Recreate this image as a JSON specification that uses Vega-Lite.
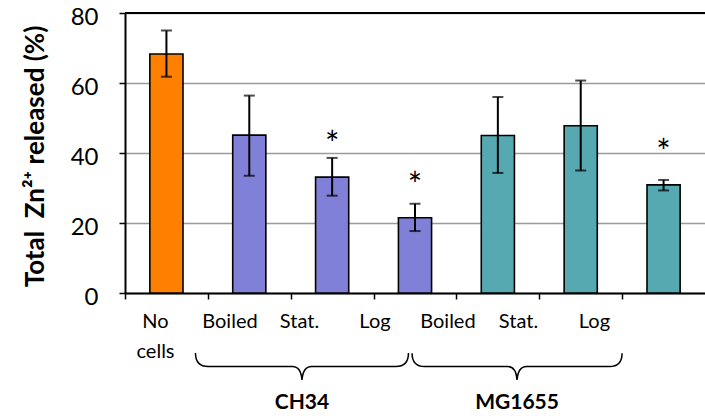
{
  "$schema": "https://vega.github.io/schema/vega-lite/v6.json",
  "autosize": {"type": "none"},
  "width": 580,
  "height": 280,
  "padding": {"left": 125, "top": 13, "right": 0, "bottom": 123},
  "background": "white",
  "config": {"font": "Lato", "view": {"stroke": null}},
  "datasets": {
    "bars": [
      {"id": "No cells", "group": "none", "value": 68.3, "lo": 61.8, "hi": 75.0, "sig": false},
      {"id": "CH34|Boiled", "group": "CH34", "value": 45.1, "lo": 33.5, "hi": 56.4, "sig": false},
      {"id": "CH34|Stat.", "group": "CH34", "value": 33.1, "lo": 27.8, "hi": 38.6, "sig": true},
      {"id": "CH34|Log", "group": "CH34", "value": 21.5, "lo": 17.7, "hi": 25.5, "sig": true},
      {"id": "MG1655|Boiled", "group": "MG1655", "value": 45.0, "lo": 34.3, "hi": 56.0, "sig": false},
      {"id": "MG1655|Stat.", "group": "MG1655", "value": 47.8, "lo": 35.0, "hi": 60.7, "sig": false},
      {"id": "MG1655|Log", "group": "MG1655", "value": 30.9, "lo": 29.3, "hi": 32.3, "sig": true}
    ]
  },
  "data": {"name": "bars"},
  "layer": [
    {
      "mark": {"type": "bar", "stroke": "black", "strokeWidth": 1.6},
      "encoding": {
        "x": {
          "field": "id", "type": "nominal", "sort": null,
          "scale": {"paddingInner": 0.6, "paddingOuter": 0.3},
          "axis": {
            "title": null,
            "labelAngle": 0,
            "labelExpr": "indexof(datum.value,'|')>=0 ? split(datum.value,'|')[1] : split(datum.value,' ')",
            "labelFont": "Lato",
            "labelFontSize": 20,
            "labelColor": "black",
            "labelLineHeight": 30,
            "labelPadding": 12,
            "tickOffset": -41.43,
            "labelOffset": {
              "condition": [
                {"test": "datum.value === 'No cells'", "value": 30},
                {"test": "datum.value === 'CH34|Boiled'", "value": 21.6},
                {"test": "datum.value === 'CH34|Stat.'", "value": 8.3},
                {"test": "datum.value === 'CH34|Log'", "value": 0.9},
                {"test": "datum.value === 'MG1655|Boiled'", "value": -9},
                {"test": "datum.value === 'MG1655|Stat.'", "value": -21.3}
              ],
              "value": -28.2
            },
            "labelOverlap": false,
            "tickSize": 6,
            "tickColor": "black",
            "tickWidth": 1.5,
            "domainColor": "black",
            "domainWidth": 2
          }
        },
        "y": {
          "field": "value", "type": "quantitative",
          "title": "Total\u00a0 Zn²⁺ released (%)",
          "scale": {"domain": [0, 80], "nice": false},
          "axis": {
            "titleFont": "Lato",
            "titleFontSize": 26,
            "titleFontWeight": "bold",
            "titleColor": "black",
            "titlePadding": 22,
            "titleY": 143,
            "values": [0, 20, 40, 60, 80],
            "labelFont": "Lato",
            "labelFontSize": 24,
            "labelColor": "black",
            "labelPadding": 21,
            "labelOffset": 4,
            "tickSize": 6,
            "tickColor": "black",
            "tickWidth": 1.5,
            "domainColor": "black",
            "domainWidth": 2,
            "grid": true,
            "gridColor": "#9a9a9a",
            "gridWidth": 1.6
          }
        },
        "color": {
          "field": "group", "type": "nominal", "legend": null,
          "scale": {"domain": ["none", "CH34", "MG1655"], "range": ["#FF8000", "#8080D8", "#56A9B1"]}
        }
      }
    },
    {
      "mark": {"type": "errorbar", "ticks": {"size": 11, "thickness": 2, "color": "black"}, "thickness": 2, "color": "black"},
      "encoding": {
        "x": {"field": "id", "type": "nominal", "sort": null},
        "y": {"field": "lo", "type": "quantitative", "title": "Total\u00a0 Zn²⁺ released (%)"},
        "y2": {"field": "hi"}
      }
    },
    {
      "transform": [{"filter": "datum.sig"}],
      "mark": {"type": "text", "text": "*", "font": "Lato", "fontSize": 34, "color": "black", "baseline": "alphabetic", "dy": -21},
      "encoding": {
        "x": {"field": "id", "type": "nominal", "sort": null},
        "y": {"field": "value", "type": "quantitative", "title": "Total\u00a0 Zn²⁺ released (%)"}
      }
    },
    {
      "data": {"values": [{}]},
      "mark": {"type": "rule", "color": "black", "strokeWidth": 2},
      "encoding": {"y": {"datum": 80, "type": "quantitative"}}
    },
    {
      "data": {"values": [{}]},
      "mark": {"type": "point", "shape": "M-1,-0.127 Q-1,0 -0.88,0 L-0.09,0 Q-0.01,0 0,0.127 Q0.01,0 0.09,0 L0.88,0 Q1,0 1,-0.127", "size": 45369, "filled": false, "stroke": "black", "strokeWidth": 1.5, "opacity": 1},
      "encoding": {
        "x": {"datum": "CH34|Boiled", "type": "nominal", "bandPosition": 2.09},
        "y": {"datum": -21, "type": "quantitative"}
      }
    },
    {
      "data": {"values": [{}]},
      "mark": {"type": "point", "shape": "M-1,-0.127 Q-1,0 -0.88,0 L-0.09,0 Q-0.01,0 0,0.127 Q0.01,0 0.09,0 L0.88,0 Q1,0 1,-0.127", "size": 44100, "filled": false, "stroke": "black", "strokeWidth": 1.5, "opacity": 1},
      "encoding": {
        "x": {"datum": "MG1655|Boiled", "type": "nominal", "bandPosition": 1.08},
        "y": {"datum": -21, "type": "quantitative"}
      }
    },
    {
      "data": {"values": [{}]},
      "mark": {"type": "text", "text": "CH34", "font": "Lato", "fontSize": 21, "fontWeight": "bold", "color": "black", "baseline": "middle"},
      "encoding": {
        "x": {"datum": "CH34|Boiled", "type": "nominal", "bandPosition": 2.09},
        "y": {"datum": -31.3, "type": "quantitative"}
      }
    },
    {
      "data": {"values": [{}]},
      "mark": {"type": "text", "text": "MG1655", "font": "Lato", "fontSize": 21, "fontWeight": "bold", "color": "black", "baseline": "middle"},
      "encoding": {
        "x": {"datum": "MG1655|Boiled", "type": "nominal", "bandPosition": 1.08},
        "y": {"datum": -31.3, "type": "quantitative"}
      }
    }
  ]
}
